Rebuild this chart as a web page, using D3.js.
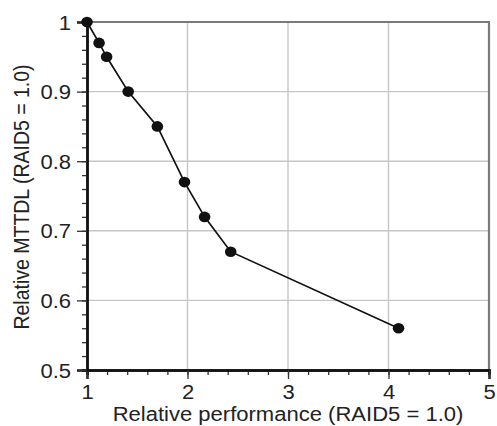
<!DOCTYPE html>
<html><head><meta charset="utf-8">
<script src="https://cdn.jsdelivr.net/npm/d3@7/dist/d3.min.js"></script>
<style>body{margin:0;background:#fff;} text{font-family:"Liberation Sans",Arial,sans-serif;}</style>
</head><body><svg id="c" width="497" height="426"></svg>
<script>
const perf = [1.0, 1.12, 1.195, 1.41, 1.70, 1.97, 2.17, 2.43, 4.10];
const mttdl = [1.0, 0.97, 0.95, 0.90, 0.85, 0.77, 0.72, 0.67, 0.56];
const xTicks = [1, 2, 3, 4, 5];
const yTicks = [0.5, 0.6, 0.7, 0.8, 0.9, 1.0];
const xLabel = "Relative performance (RAID5 = 1.0)";
const yLabel = "Relative MTTDL (RAID5 = 1.0)";

const SX = 1.13; // horizontal text stretch
const FS = 19.5;
const svg = d3.select("#c");
const L = 87, R = 489, T = 22, B = 370;
const x = d3.scaleLinear().domain([1, 5]).range([L, R]);
const y = d3.scaleLinear().domain([0.5, 1.0]).range([B, T]);

// grid
const g = svg.append("g");
g.selectAll("line.vx").data(xTicks.slice(1, -1)).join("line")
  .attr("x1", d => x(d)).attr("x2", d => x(d)).attr("y1", T).attr("y2", B)
  .attr("stroke", "#c6c6c6").attr("stroke-width", 1.4);
g.selectAll("line.hy").data(yTicks.slice(1, -1)).join("line")
  .attr("x1", L).attr("x2", R).attr("y1", d => y(d)).attr("y2", d => y(d))
  .attr("stroke", "#c6c6c6").attr("stroke-width", 1.4);
g.append("path").attr("d", `M${L},${T}H${R}V${B}`).attr("fill", "none")
  .attr("stroke", "#7a7a7a").attr("stroke-width", 2.2);

// axes
const xMinor = d3.range(1, 5.001, 0.2);
const yMinor = d3.range(0.5, 1.0001, 0.02);
const xAxis = d3.axisBottom(x).tickValues(xTicks).tickFormat(d3.format("d")).tickSize(9).tickPadding(0);
const xAxisMinor = d3.axisBottom(x).tickValues(xMinor).tickFormat("").tickSize(5);
const yAxis = d3.axisLeft(y).tickValues(yTicks).tickFormat(d => d === 1 ? "1" : d3.format(".1f")(d)).tickSize(10).tickPadding(6);
const yAxisMinor = d3.axisLeft(y).tickValues(yMinor).tickFormat("").tickSize(5);

function style(sel){
  sel.select(".domain").attr("stroke", "#111").attr("stroke-width", 2.4);
  sel.selectAll(".tick line").attr("stroke", "#333").attr("stroke-width", 1.3);
  sel.selectAll(".tick text").attr("font-size", FS).attr("fill", "#222")
     .attr("font-family", "Liberation Sans, Arial, sans-serif");
}
svg.append("g").attr("transform", `translate(0,${B})`).call(xAxisMinor).call(style);
svg.append("g").attr("transform", `translate(${L},0)`).call(yAxisMinor).call(style);
const gx = svg.append("g").attr("transform", `translate(0,${B})`).call(xAxis).call(style);
gx.selectAll(".tick text").attr("dy", null).attr("y", 29).attr("transform", `scale(${SX},1)`);
const gy = svg.append("g").attr("transform", `translate(${L},0)`).call(yAxis).call(style);
gy.selectAll(".tick text").attr("x", -16 / SX).attr("dy", "0.36em").attr("transform", `scale(${SX},1)`);

// line & points
const data = perf.map((p, i) => [p, mttdl[i]]);
svg.append("path").datum(data)
  .attr("d", d3.line().x(d => x(d[0])).y(d => y(d[1])))
  .attr("fill", "none").attr("stroke", "#111").attr("stroke-width", 1.7);
svg.selectAll("ellipse.pt").data(data).join("ellipse")
  .attr("cx", d => x(d[0])).attr("cy", d => y(d[1])).attr("rx", 5.8).attr("ry", 5.3).attr("fill", "#111");

// labels
svg.append("text").attr("transform", `translate(${(L + R) / 2},421) scale(${SX},1)`).attr("text-anchor", "middle")
  .attr("font-size", FS).attr("fill", "#222").text(xLabel);
svg.append("text").attr("transform", `translate(29,${(T + B) / 2 + 1}) scale(${SX},1) rotate(-90)`)
  .attr("text-anchor", "middle").attr("font-size", FS).attr("fill", "#222").text(yLabel);
</script></body></html>
